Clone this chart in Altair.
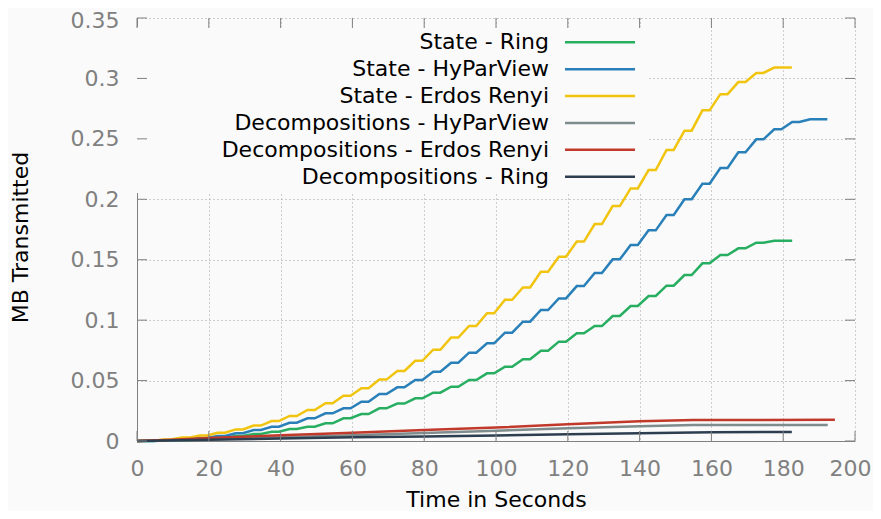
import altair as alt
import pandas as pd

SERIES = ["State - Ring", "State - HyParView", "State - Erdos Renyi",
          "Decompositions - HyParView", "Decompositions - Erdos Renyi",
          "Decompositions - Ring"]
COLORS = ["#27ae60", "#2980b9", "#f1c40f", "#7f8c8d", "#c0392b", "#2c3e50"]
LEGEND_ROW = [0, 1, 2, 3, 4, 5]

# State series: level of each ~5 s step (plateaus)
RING_LEVELS = [0.0001, 0.0004, 0.0008, 0.0017, 0.0028, 0.0041, 0.0058, 0.0077,
               0.0099, 0.0118, 0.0146, 0.0188, 0.0223, 0.0270, 0.0310, 0.0353,
               0.0400, 0.0449, 0.0505, 0.0560, 0.0615, 0.0676, 0.0747, 0.0822,
               0.0891, 0.0951, 0.1034, 0.1117, 0.1200, 0.1285, 0.1373, 0.1470,
               0.1539, 0.1594, 0.1641, 0.1657]
HYPAR_LEVELS = [0.0001, 0.0006, 0.0014, 0.0025, 0.0041, 0.0064, 0.0091, 0.0118,
                0.0151, 0.0188, 0.0229, 0.0270, 0.0325, 0.0389, 0.0444, 0.0505,
                0.0573, 0.0648, 0.0731, 0.0808, 0.0896, 0.0987, 0.1084, 0.1180,
                0.1282, 0.1390, 0.1503, 0.1622, 0.1743, 0.1870, 0.2000, 0.2129,
                0.2259, 0.2389, 0.2496, 0.2579, 0.2639, 0.2662]
ERDOS_LEVELS = [0.0003, 0.0012, 0.0028, 0.0045, 0.0068, 0.0096, 0.0128, 0.0165,
                0.0207, 0.0257, 0.0312, 0.0375, 0.0437, 0.0508, 0.0580, 0.0663,
                0.0755, 0.0856, 0.0952, 0.1057, 0.1168, 0.1270, 0.1400, 0.1525,
                0.1650, 0.1795, 0.1944, 0.2090, 0.2242, 0.2408, 0.2568, 0.2736,
                0.2870, 0.2970, 0.3045, 0.3090]
RING_END = 182.5
HYPAR_END = 192.3
ERDOS_END = 182.4
STEP_PERIOD = 5.0
PLATEAU_START = 2.5
PLATEAU_LEN = 2.0

# Decomposition series (smooth)
DEC_HYPAR_T = [0, 20, 40, 60, 80, 100, 120, 140, 155, 192.4]
DEC_HYPAR_V = [0, 0.0015, 0.0030, 0.0048, 0.0066, 0.0085, 0.0105, 0.0123, 0.0132, 0.0132]
DEC_ERDOS_T = [0, 10, 20, 40, 60, 80, 100, 120, 140, 155, 194.4]
DEC_ERDOS_V = [0, 0.0010, 0.0025, 0.0048, 0.0068, 0.0090, 0.0111, 0.0139, 0.0163, 0.0174, 0.0175]
DEC_RING_T = [0, 20, 40, 60, 80, 100, 120, 140, 160, 182.4]
DEC_RING_V = [0, 0.0010, 0.0020, 0.0031, 0.0038, 0.0045, 0.0055, 0.0065, 0.0073, 0.0074]

X_TICKS = [0, 20, 40, 60, 80, 100, 120, 140, 160, 180, 200]
Y_TICKS = [0, 0.05, 0.1, 0.15, 0.2, 0.25, 0.3, 0.35]

W, H = 718, 423
BG = "#fafafa"
AXIS_GRAY = "#808080"
FONT = "DejaVu Sans"


def step_rows(name, levels, end):
    rows = [(name, 0.0, 0.0)]
    for k, lv in enumerate(levels):
        t0 = PLATEAU_START + STEP_PERIOD * k
        rows.append((name, t0, lv))
        if k < len(levels) - 1:
            rows.append((name, t0 + PLATEAU_LEN, lv))
        else:
            rows.append((name, end, lv))
    return rows


rows = []
rows += step_rows(SERIES[0], RING_LEVELS, RING_END)
rows += step_rows(SERIES[1], HYPAR_LEVELS, HYPAR_END)
rows += step_rows(SERIES[2], ERDOS_LEVELS, ERDOS_END)
rows += [(SERIES[3], t, v) for t, v in zip(DEC_HYPAR_T, DEC_HYPAR_V)]
rows += [(SERIES[4], t, v) for t, v in zip(DEC_ERDOS_T, DEC_ERDOS_V)]
rows += [(SERIES[5], t, v) for t, v in zip(DEC_RING_T, DEC_RING_V)]
df = pd.DataFrame(rows, columns=["series", "t", "v"])
df["order"] = range(len(df))

xscale = alt.Scale(domain=[0, 200], nice=False, zero=False)
yscale = alt.Scale(domain=[0, 0.35], nice=False, zero=False)
cscale = alt.Scale(domain=SERIES, range=COLORS)

x_axis = alt.Axis(values=X_TICKS, grid=True, gridDash=[1, 3], gridColor="#a0a0a0",
                  gridWidth=1, ticks=False, domainColor=AXIS_GRAY, domainWidth=1,
                  labelColor=AXIS_GRAY, labelFontSize=22, labelFont=FONT,
                  labelPadding=17, labelFlush=False, labelOverlap=False,
                  labelOffset={"condition": {"test": "datum.value == 200", "value": -5},
                               "value": 0},
                  title="Time in Seconds", titleFontSize=22, titleFont=FONT,
                  titleColor="black", titleFontWeight="normal",
                  titleY=58, titleBaseline="middle")
y_axis = alt.Axis(values=Y_TICKS, format="~g", grid=True, gridDash=[1, 3],
                  gridColor="#a0a0a0", gridWidth=1, ticks=False,
                  domainColor=AXIS_GRAY, domainWidth=1,
                  labelColor=AXIS_GRAY, labelFontSize=22, labelFont=FONT,
                  labelPadding=18, labelFlush=False, labelOverlap=False,
                  labelOffset={"condition": {"test": "datum.value >= 0.34", "value": 2},
                               "value": 0},
                  title="MB Transmitted", titleFontSize=22, titleFont=FONT,
                  titleColor="black", titleFontWeight="normal",
                  titleX=-117, titleY=219, titleAlign="center",
                  titleBaseline="middle")

box_df = pd.DataFrame({"k": [0]})
legend_box = alt.Chart(box_df).mark_rect(fill=BG).encode(
    x=alt.value(0), x2=alt.value(510), y=alt.value(9), y2=alt.value(175))

lines = alt.Chart(df).mark_line(strokeWidth=2.5, interpolate="linear").encode(
    x=alt.X("t:Q", scale=xscale, axis=x_axis),
    y=alt.Y("v:Q", scale=yscale, axis=y_axis),
    color=alt.Color("series:N", scale=cscale, legend=None),
    order=alt.Order("order:Q"),
)

xt = pd.DataFrame({"t": X_TICKS})
yt = pd.DataFrame({"v": Y_TICKS})
tick_style = dict(color=AXIS_GRAY, strokeWidth=1)
ticks_bottom = alt.Chart(xt).mark_rule(**tick_style).encode(
    x=alt.X("t:Q", scale=xscale), y=alt.value(H), y2=alt.value(H - 10))
ticks_top = alt.Chart(xt).mark_rule(**tick_style).encode(
    x=alt.X("t:Q", scale=xscale), y=alt.value(0), y2=alt.value(10))
ticks_left = alt.Chart(yt).mark_rule(**tick_style).encode(
    y=alt.Y("v:Q", scale=yscale), x=alt.value(0), x2=alt.value(10))
ticks_right = alt.Chart(yt).mark_rule(**tick_style).encode(
    y=alt.Y("v:Q", scale=yscale), x=alt.value(W), x2=alt.value(W - 10))

main = alt.layer(legend_box, lines, ticks_bottom, ticks_top, ticks_left, ticks_right)

leg_df = pd.DataFrame({"series": SERIES, "row": LEGEND_ROW})
leg_y = alt.Y("row:Q", scale=alt.Scale(domain=[0, 5], range=[24.3, 158.7],
                                        nice=False, zero=False), axis=None)
leg_text = alt.Chart(leg_df).mark_text(align="right", baseline="middle",
                                       font=FONT, fontSize=22, color="black").encode(
    x=alt.value(412), y=leg_y, text="series:N")
leg_rule = alt.Chart(leg_df).mark_rule(strokeWidth=2.5).encode(
    x=alt.value(428), x2=alt.value(498), y=leg_y,
    color=alt.Color("series:N", scale=cscale, legend=None))
legend = alt.layer(leg_text, leg_rule)

chart = alt.layer(main, legend).resolve_scale(y="independent").properties(
    width=W, height=H,
    autosize=alt.AutoSizeParams(type="none"),
    padding={"left": 129, "top": 10, "right": 18, "bottom": 70},
    background=BG,
).configure_view(stroke=None)

chart.save("out.html", embed_options={"renderer": "svg", "actions": False})
